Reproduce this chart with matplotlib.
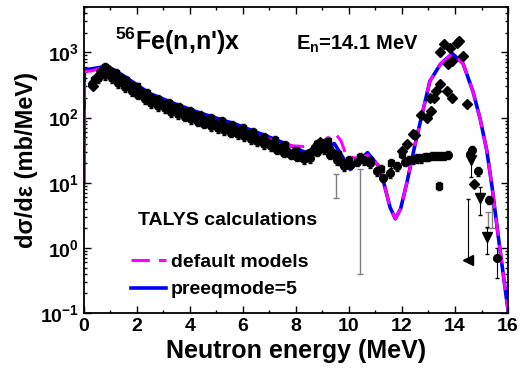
import numpy as np
import matplotlib
matplotlib.use("Agg")
import matplotlib.pyplot as plt
from matplotlib.ticker import MultipleLocator, LogLocator
from matplotlib.lines import Line2D

plt.rcParams['font.family'] = ['Liberation Sans', 'DejaVu Sans']
plt.rcParams['font.weight'] = 'bold'
plt.rcParams['axes.labelweight'] = 'bold'
plt.rcParams['mathtext.fontset'] = 'custom'
plt.rcParams['mathtext.rm'] = 'Liberation Sans:bold'
plt.rcParams['mathtext.it'] = 'Liberation Sans:bold'
plt.rcParams['mathtext.bf'] = 'Liberation Sans:bold'

# TALYS curves
e_pre = [0.0, 0.02, 0.3, 0.63, 0.8, 1.25, 1.9, 2.5, 3.4, 4.4, 5.7, 6.9, 7.8, 8.5, 9.45,
         10.05, 10.7, 11.17, 11.55, 11.75, 11.95, 12.2, 12.45, 12.7, 13.05, 13.45, 13.9,
         14.3, 14.68, 14.95, 15.2, 15.4, 15.6, 15.8, 16.0]
s_pre = [10, 540, 560, 590, 630, 510, 340, 233, 165, 117, 80, 52, 37, 27.5, 40,
         16, 29, 17, 4.2, 2.8, 4.0, 10.7, 32, 89, 360, 660, 960,
         680, 250, 95, 31, 8.5, 1.9, 0.45, 0.11]

e_def = [0.0, 0.02, 0.3, 0.7, 1.25, 1.9, 2.5, 3.4, 4.4, 5.7, 6.9, 7.8, 8.3, 8.9, 9.3, 9.5,
         9.7, 9.9, 10.2, 10.5, 10.8, 11.17, 11.55, 11.75, 11.95, 12.2, 12.45, 12.7, 13.05,
         13.45, 13.9, 14.3, 14.68, 14.95, 15.2, 15.4, 15.6, 15.8, 16.0]
s_def = [10, 510, 520, 580, 455, 300, 205, 145, 103, 72, 48, 37, 36, 40, 52, 56,
         44, 26, 24, 25, 27, 17, 4.2, 2.8, 4.0, 10.7, 32, 89, 360,
         660, 960, 680, 250, 95, 31, 8.5, 1.9, 0.45, 0.11]

# experimental data set 1 (diamonds)
e_d1 = [0.35, 0.5, 0.65, 0.8, 0.95, 1.1, 1.25, 1.4, 1.55, 1.7, 1.85, 2.0, 2.15, 2.3, 2.45,
        2.6, 2.75, 2.9, 3.05, 3.2, 3.35, 3.5, 3.65, 3.8, 3.95, 4.1, 4.25, 4.4, 4.55, 4.7,
        4.85, 5.0, 5.15, 5.3, 5.45, 5.6, 5.75, 5.9, 6.05, 6.2, 6.35, 6.5, 6.65, 6.8, 6.95,
        7.1, 7.25, 7.4, 7.55, 7.7, 7.85, 8.0, 8.15, 8.3, 8.45, 8.6, 8.75, 8.9, 9.05, 9.2,
        9.35, 9.5, 9.65, 9.8,
        12.0, 12.2, 12.4, 12.5, 12.7, 12.95, 13.05, 13.1, 13.2, 13.3, 13.43, 13.7, 13.9,
        13.43, 13.6, 13.75, 13.8, 13.9, 14.07, 14.15, 14.3, 14.45, 14.7]
s_d1 = [300, 420, 520, 560, 530, 490, 440, 400, 360, 320, 300, 275, 250, 225, 205,
        190, 178, 165, 158, 150, 140, 132, 127, 120, 113, 108, 102, 98, 93, 89,
        84, 80, 77, 73, 70, 67, 64, 61, 58, 55, 52, 49, 46, 43, 41,
        39, 36, 34, 32, 30, 28, 27, 26, 26, 28, 31, 36, 42, 40, 35,
        30, 26, 22, 19,
        31, 40, 56, 55, 110, 100, 200, 125, 200, 260, 330, 260, 200,
        1000, 1350, 660, 1150, 730, 1380, 1500, 870, 160, 9.6]

# experimental data set 2 (circles)
e_d2 = [0.3, 0.55, 0.8, 1.05, 1.3, 1.55, 1.8, 2.05, 2.3, 2.55, 2.8, 3.05, 3.3, 3.55, 3.8,
        4.05, 4.3, 4.55, 4.8, 5.05, 5.3, 5.55, 5.8, 6.05, 6.3, 6.55, 6.8, 7.05, 7.3, 7.55,
        7.8, 8.05, 8.3, 8.55, 8.8, 9.05, 9.3, 9.55, 9.8, 10.05, 10.3, 10.55, 10.8, 11.05,
        11.3, 11.55, 11.8,
        12.1, 12.25, 12.4, 12.55, 12.7, 12.85, 13.0, 13.15, 13.3, 13.45, 13.6, 13.75,
        14.55, 14.65, 14.85, 15.3]
s_d2 = [330, 400, 450, 400, 340, 290, 255, 225, 190, 165, 150, 138, 122, 112, 103,
        95, 87, 80, 74, 69, 64, 59, 56, 52, 47, 43, 39, 36, 32, 29,
        27, 25, 23, 24, 30, 33, 27, 22, 18, 19, 21, 22, 20, 15,
        12, 14, 18,
        21, 22, 23, 24, 24, 25, 25, 26, 26, 26, 26, 27,
        28, 32, 15, 5.5]

# experimental data set 3 (squares)
e_d3 = [0.4, 0.8, 1.2, 1.6, 2.0, 2.4, 2.8, 3.2, 3.6, 4.0, 4.4, 4.8, 5.2, 5.6, 6.0, 6.4,
        6.8, 7.2, 7.6, 8.0, 8.4, 8.8, 9.2, 9.6, 10.0, 10.4, 10.8, 11.2, 11.6, 12.0, 13.4]
s_d3 = [380, 600, 480, 380, 300, 240, 195, 167, 147, 126, 111, 98, 88, 78, 70, 61,
        51, 45, 38, 32, 28, 40, 44, 28, 22, 25, 22, 16, 20, 28, 9]

# data set 4 (down triangles), 5 (left triangle), 6 (single circle)
e_d4 = [14.6, 14.95, 15.2]
s_d4 = [22, 5.9, 1.45]
e_d5 = [14.5]
s_d5 = [0.65]
e_d6 = [15.6]
s_d6 = [0.7]

# loose error bars (grey)
e_gr = [9.5, 10.4, 15.25, 15.4]
s_gr = [9.75, 8.2, 2.8, 3.5]
err_gr = [3.85, 7.8, 0.8, 1.5]

fig = plt.figure(figsize=(5.27, 3.80), dpi=100)
ax = fig.add_axes([0.159, 0.176, 0.805, 0.806])

mk = dict(color='black', ecolor='black', linestyle='none', elinewidth=0.8, capsize=1.5)
ax.errorbar(e_gr, s_gr, yerr=err_gr, fmt='none', ecolor='grey', elinewidth=1.0, capsize=2.5)
ax.errorbar(e_d3, s_d3, yerr=np.array(s_d3) * 0.15, fmt='s', ms=5, **mk)
ax.errorbar(e_d2, s_d2, yerr=np.array(s_d2) * 0.15, fmt='o', ms=5.5, **mk)
ax.errorbar(e_d1, s_d1, yerr=np.array(s_d1) * 0.1, fmt='D', ms=5.5, **mk)
ax.errorbar(e_d4, s_d4, yerr=np.array(s_d4) * 0.45, fmt='v', ms=6.5, **mk)
ax.errorbar(e_d5, s_d5, yerr=[[0], [4.9]], fmt='<', ms=6.5, **mk)
ax.errorbar(e_d6, s_d6, yerr=[[0.35], [0.3]], fmt='o', ms=5.5, **mk)

ax.plot(e_pre, s_pre, color='#0000ff', lw=2.6)
ax.plot(e_def, s_def, color='#ff00ff', lw=2.2, dashes=(6, 3))

ax.set_yscale('log')
ax.set_xlim(0, 16)
ax.set_ylim(0.1, 5000)
ax.xaxis.set_major_locator(MultipleLocator(2))
ax.xaxis.set_minor_locator(MultipleLocator(1))
ax.yaxis.set_major_locator(LogLocator(base=10, numticks=10))
ax.yaxis.set_minor_locator(LogLocator(base=10, subs=np.arange(2, 10), numticks=20))
ax.tick_params(which='both', direction='in', top=True, right=True, labelsize=14, width=1.0)
ax.tick_params(which='major', length=5)
ax.tick_params(which='minor', length=2.5)
for s in ax.spines.values():
    s.set_linewidth(1.3)

ax.set_xlabel('Neutron energy (MeV)', fontsize=18, labelpad=3)
ax.set_ylabel('dσ/dε (mb/MeV)', fontsize=17, labelpad=1)

ax.text(0.073, 0.886, r"$^{56}$Fe(n,n')x", transform=ax.transAxes, fontsize=18, va='center')
ax.text(0.5, 0.876, r"E$_{\rm n}$=14.1 MeV", transform=ax.transAxes, fontsize=14.5, va='center')
ax.text(0.127, 0.304, 'TALYS calculations', transform=ax.transAxes, fontsize=14, va='center')

handles = [Line2D([], [], color='#ff00ff', lw=2.2, dashes=(6, 3)),
           Line2D([], [], color='#0000ff', lw=2.6)]
ax.legend(handles, ['default models', 'preeqmode=5'], loc='upper left',
          bbox_to_anchor=(0.112, 0.195), frameon=False, fontsize=14, borderpad=0,
          borderaxespad=0, handlelength=1.8, handletextpad=0.25, labelspacing=0.5)

fig.savefig('out.png', dpi=100)
